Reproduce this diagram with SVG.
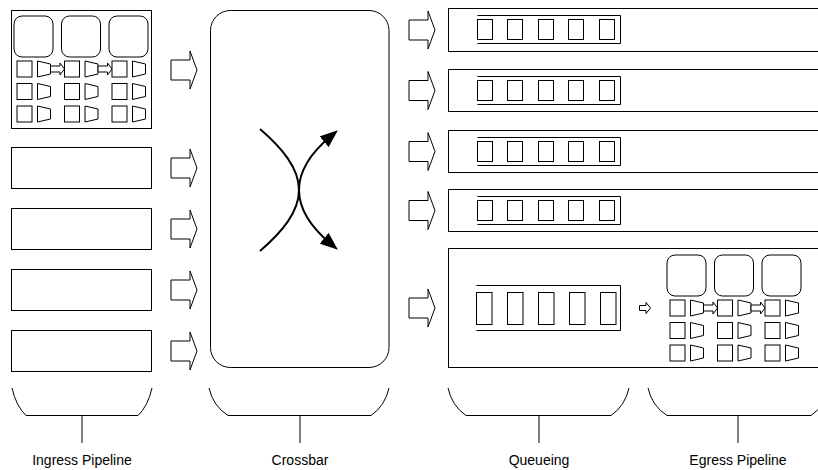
<svg xmlns="http://www.w3.org/2000/svg" xmlns:xlink="http://www.w3.org/1999/xlink" width="818" height="470" viewBox="0 0 818 470">
<style>
  .box { fill: #ffffff; stroke: #000000; stroke-width: 1; }
  .ln { fill: none; stroke: #000000; stroke-width: 1; }
  .flow { fill: none; stroke: #000000; stroke-width: 2; }
  .lbl { font-family: "Liberation Sans", Arial, sans-serif; font-size: 14px; fill: #000000; text-anchor: middle; }
</style>
<defs>
  <marker id="ah" viewBox="0 0 18 14" refX="9" refY="7" markerWidth="18" markerHeight="14" markerUnits="userSpaceOnUse" orient="auto">
    <path d="M0,0 L18,7 L0,14 Z" fill="#000000"/>
  </marker>
  <polygon id="bigArrow" class="box" points="-26,-10 -7,-10 -7,-19 0,0 -7,19 -7,10 -26,10"/>
  <polygon id="tinyArrow" class="box" points="-14,-3 -4.5,-3 -4.5,-6 0,0 -4.5,6 -4.5,3 -14,3"/>
  <g id="stageCol">
    <rect class="box" x="14" y="16" width="39" height="41" rx="8"/>
    <rect class="box" x="17" y="61" width="15" height="16"/>
    <polygon class="box" points="37.5,61 50.5,64 50.5,74 37.5,77"/>
    <rect class="box" x="17" y="83.5" width="15" height="16"/>
    <polygon class="box" points="37.5,83.5 50.5,86.5 50.5,96.5 37.5,99.5"/>
    <rect class="box" x="17" y="106" width="15" height="16"/>
    <polygon class="box" points="37.5,106 50.5,109 50.5,119 37.5,122"/>
  </g>
  <g id="stage">
    <use xlink:href="#stageCol"/>
    <use xlink:href="#stageCol" x="47.5"/>
    <use xlink:href="#stageCol" x="95"/>
    <use xlink:href="#tinyArrow" x="64.5" y="69"/>
    <use xlink:href="#tinyArrow" x="112" y="69"/>
  </g>
  <g id="queueSlots">
    <path class="ln" d="M477.5,7 H620.5 V35 H477.5"/>
    <rect class="box" x="477.5" y="11" width="15" height="20"/>
    <rect class="box" x="507.5" y="11" width="15" height="20"/>
    <rect class="box" x="538.5" y="11" width="15" height="20"/>
    <rect class="box" x="568.5" y="11" width="15" height="20"/>
    <rect class="box" x="599.5" y="11" width="15" height="20"/>
  </g>
</defs>

<g id="ingress-0">
  <rect class="box" x="11.5" y="10.5" width="140" height="118"/>
  <use xlink:href="#stage"/>
</g>
<g id="ingress-1"><rect class="box" x="11.5" y="147.5" width="140" height="41"/></g>
<g id="ingress-2"><rect class="box" x="11.5" y="208.5" width="140" height="41"/></g>
<g id="ingress-3"><rect class="box" x="11.5" y="269.5" width="140" height="41"/></g>
<g id="ingress-4"><rect class="box" x="11.5" y="330.5" width="140" height="41"/></g>

<g id="crossbar">
  <rect class="box" x="210.5" y="10.5" width="178.5" height="357" rx="20"/>
  <path class="flow" d="M260,129 C282,148 299,168 299,190 C299,211 313,229 331,244" marker-end="url(#ah)"/>
  <path class="flow" d="M260,251 C282,232 299,212 299,190 C299,169 313,151 331,136" marker-end="url(#ah)"/>
</g>

<g id="queue-0">
  <rect class="box" x="448.5" y="8.5" width="420" height="43"/>
  <use xlink:href="#queueSlots" y="8.5"/>
</g>
<g id="queue-1">
  <rect class="box" x="448.5" y="69.5" width="420" height="42"/>
  <use xlink:href="#queueSlots" y="69.5"/>
</g>
<g id="queue-2">
  <rect class="box" x="448.5" y="130.5" width="420" height="42"/>
  <use xlink:href="#queueSlots" y="130.5"/>
</g>
<g id="queue-3">
  <rect class="box" x="448.5" y="189.5" width="420" height="42"/>
  <use xlink:href="#queueSlots" y="189.5"/>
</g>
<g id="queue-egress">
  <rect class="box" x="448.5" y="248.5" width="420" height="119"/>
  <path class="ln" d="M476.5,285.5 H620.5 V330.5 H476.5"/>
  <rect class="box" x="476.5" y="292.5" width="15.5" height="32"/>
  <rect class="box" x="507.5" y="292.5" width="15.5" height="32"/>
  <rect class="box" x="538.5" y="292.5" width="15.5" height="32"/>
  <rect class="box" x="569.5" y="292.5" width="15.5" height="32"/>
  <rect class="box" x="600.5" y="292.5" width="15.5" height="32"/>
  <polygon class="box" points="639.5,305.5 646,305.5 646,302.5 650.5,308 646,313.5 646,310.5 639.5,310.5"/>
  <g id="egress-stage" transform="translate(653,239)">
    <use xlink:href="#stage"/>
  </g>
</g>

<g id="connectors">
  <use xlink:href="#bigArrow" x="197" y="70"/>
  <use xlink:href="#bigArrow" x="197" y="168"/>
  <use xlink:href="#bigArrow" x="197" y="229"/>
  <use xlink:href="#bigArrow" x="197" y="290"/>
  <use xlink:href="#bigArrow" x="197" y="351"/>
  <use xlink:href="#bigArrow" x="435" y="30"/>
  <use xlink:href="#bigArrow" x="435" y="90.5"/>
  <use xlink:href="#bigArrow" x="435" y="151.5"/>
  <use xlink:href="#bigArrow" x="435" y="210.5"/>
  <use xlink:href="#bigArrow" x="435" y="308"/>
</g>

<g id="brace-ingress">
  <path class="ln" d="M12,388 Q16,406 26,415.5 H138 Q148,406 152,388"/>
  <path class="ln" d="M82,415.5 V443"/>
  <text class="lbl" x="82" y="465">Ingress Pipeline</text>
</g>
<g id="brace-crossbar">
  <path class="ln" d="M209,388 Q213,406 228,415.5 H371 Q385,406 389,388"/>
  <path class="ln" d="M300,415.5 V443"/>
  <text class="lbl" x="300" y="465">Crossbar</text>
</g>
<g id="brace-queueing">
  <path class="ln" d="M448,388 Q452,406 466,415.5 H611 Q625,406 629,388"/>
  <path class="ln" d="M539,415.5 V443"/>
  <text class="lbl" x="539" y="465">Queueing</text>
</g>
<g id="brace-egress">
  <path class="ln" d="M648,388 Q652,406 667,415.5 H811 Q825,406 829,388"/>
  <path class="ln" d="M738,415.5 V443"/>
  <text class="lbl" x="738" y="465">Egress Pipeline</text>
</g>
</svg>
